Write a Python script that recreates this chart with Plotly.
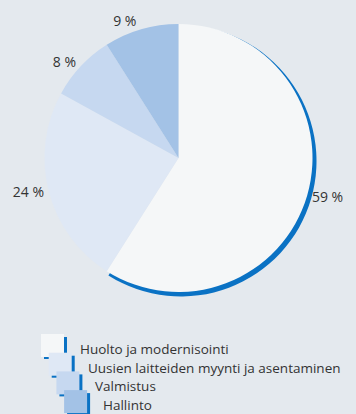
import plotly.graph_objects as go

# Revenue split by business area (%)
categories = ["Huolto ja modernisointi",
              "Uusien laitteiden myynti ja asentaminen",
              "Valmistus",
              "Hallinto"]
shares = [59, 24, 8, 9]
slice_colors = ["#f5f7f8", "#dfe8f5", "#c6d8f0", "#a3c2e6"]
accent = "#0a72c4"
bg = "#e4e9ee"

W, H = 356, 414


def px_x(x):
    return x / W


def px_y(y):
    return 1 - y / H


fig = go.Figure()

# Blue offset edge behind the largest slice
fig.add_trace(go.Pie(
    values=shares, labels=categories, sort=False, direction="clockwise",
    marker=dict(colors=[accent] + ["rgba(0,0,0,0)"] * (len(shares) - 1)),
    textinfo="none", hoverinfo="skip", showlegend=False,
    domain=dict(x=[px_x(45.5), px_x(316.5)], y=[px_y(296.5), px_y(25.5)]),
))

# Main pie
fig.add_trace(go.Pie(
    values=shares, labels=categories, sort=False, direction="clockwise",
    marker=dict(colors=slice_colors),
    texttemplate="%{value} %", textposition="outside",
    outsidetextfont=dict(family="Open Sans", size=14, color="#333333"),
    showlegend=False,
    domain=dict(x=[px_x(44), px_x(313)], y=[px_y(292), px_y(24)]),
))

# Staggered legend: square with blue offset edge, then label
shapes = []
annotations = []
x0, y0, step_x, step_y, size = 41, 334, 7.7, 18.7, 23
for i, (name, col) in enumerate(zip(categories, slice_colors)):
    lx = x0 + i * step_x
    ly = y0 + i * step_y
    shapes.append(dict(type="rect", xref="paper", yref="paper",
                       x0=px_x(lx + 3), x1=px_x(lx + size + 3),
                       y0=px_y(ly + size + 2), y1=px_y(ly + 3),
                       fillcolor=accent, line=dict(width=0), layer="above"))
    shapes.append(dict(type="rect", xref="paper", yref="paper",
                       x0=px_x(lx), x1=px_x(lx + size),
                       y0=px_y(ly + size), y1=px_y(ly),
                       fillcolor=col, line=dict(width=0), layer="above"))
    annotations.append(dict(text=name, xref="paper", yref="paper",
                            x=px_x(lx + size + 14), y=px_y(ly + 15),
                            xanchor="left", yanchor="middle", showarrow=False,
                            font=dict(family="Open Sans", size=13.5, color="#333333")))

fig.update_layout(
    width=W, height=H,
    margin=dict(l=0, r=0, t=0, b=0),
    paper_bgcolor=bg, plot_bgcolor=bg,
    shapes=shapes, annotations=annotations,
)

fig.write_html("out.html")
